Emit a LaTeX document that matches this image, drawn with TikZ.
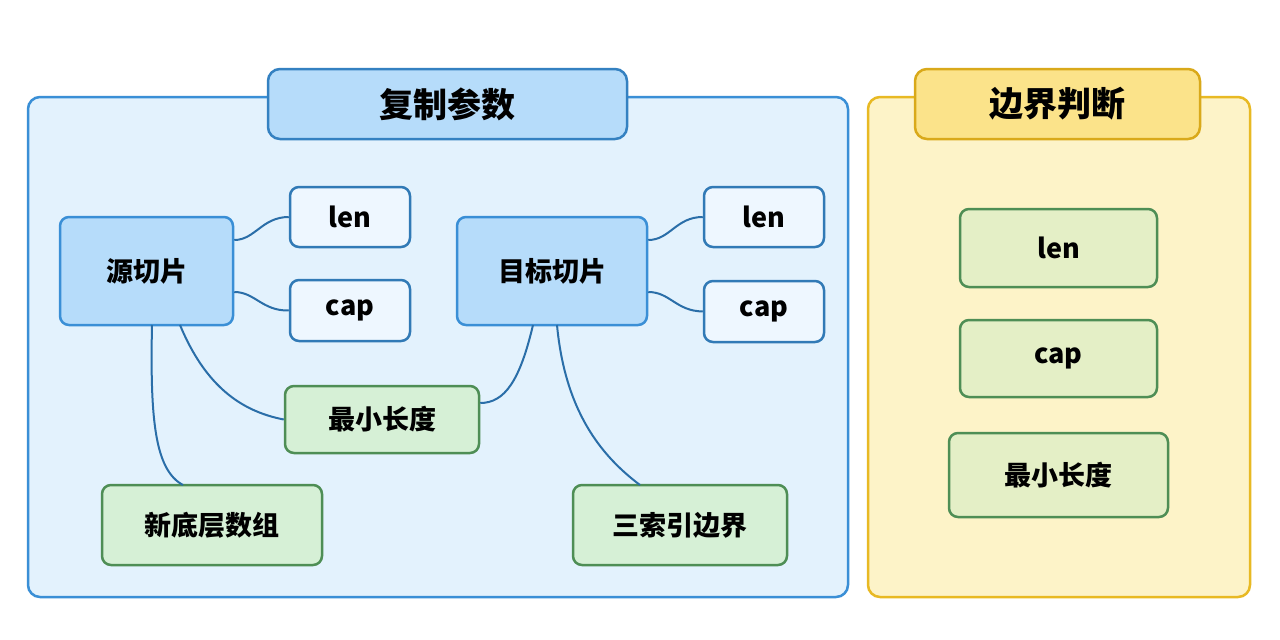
\documentclass[tikz,border=0pt]{standalone}
\usepackage{fontspec}
\setmainfont{Noto Sans CJK SC}
\definecolor{bluefill}{HTML}{B6DCFA}
\definecolor{blueline}{HTML}{3A8FD6}
\definecolor{smallfill}{HTML}{EEF7FF}
\definecolor{greenfill}{HTML}{D6F0D6}
\definecolor{greenline}{HTML}{4E8E55}
\definecolor{ygreenfill}{HTML}{E4EFC6}
\definecolor{linkc}{HTML}{2A6EA8}
\definecolor{panelblue}{HTML}{E3F2FD}
\definecolor{yfill}{HTML}{FDF3C8}
\definecolor{yline}{HTML}{E8B923}
\definecolor{ytfill}{HTML}{FBE38A}
\definecolor{ytline}{HTML}{D9A91A}
\begin{document}
\begin{tikzpicture}[x=1pt,y=-1pt,line width=2.5pt,
  panel/.style={draw, rounded corners=12pt},
  box/.style={draw, rounded corners=9pt, font=\fontsize{27}{31}\selectfont\bfseries},
  blue/.style={box, fill=bluefill, draw=blueline},
  small/.style={box, fill=smallfill, draw=blueline!85!black},
  green/.style={box, fill=greenfill, draw=greenline},
  ygreen/.style={box, fill=ygreenfill, draw=greenline},
  link/.style={draw=linkc, line width=2pt}]
\useasboundingbox (0,0) rectangle (1280,640);
\fill[white] (0,0) rectangle (1280,640);
% panels
\path[panel, fill=panelblue, draw=blueline] (28,97) rectangle (848,597);
\node[panel, fill=bluefill, draw=blueline!90!black, minimum width=359pt, minimum height=70pt, font=\fontsize{34}{40}\selectfont\bfseries] (t1) at (447.5,104) {复制参数};
\path[panel, fill=yfill, draw=yline] (868,97) rectangle (1250,597);
\node[panel, fill=ytfill, draw=ytline, minimum width=285pt, minimum height=70pt, font=\fontsize{34}{40}\selectfont\bfseries] (t2) at (1057.5,104) {边界判断};
% nodes
\node[blue, minimum width=173pt, minimum height=108pt] (src) at (146.5,271) {源切片};
\node[small, minimum width=120pt, minimum height=60pt] (len1) at (350,217) {len};
\node[small, minimum width=120pt, minimum height=61pt] (cap1) at (350,310.5) {cap};
\node[blue, minimum width=190pt, minimum height=108pt] (dst) at (552,271) {目标切片};
\node[small, minimum width=120pt, minimum height=60pt] (len2) at (764,217) {len};
\node[small, minimum width=120pt, minimum height=61pt] (cap2) at (764,311.5) {cap};
\node[green, minimum width=194pt, minimum height=67pt] (min) at (382,419.5) {最小长度};
\node[green, minimum width=220pt, minimum height=80pt] (arr) at (212,525) {新底层数组};
\node[green, minimum width=214pt, minimum height=80pt] (tri) at (680,525) {三索引边界};
\node[ygreen, minimum width=197pt, minimum height=78pt] (rlen) at (1058.5,248) {len};
\node[ygreen, minimum width=197pt, minimum height=77pt] (rcap) at (1058.5,358.5) {cap};
\node[ygreen, minimum width=219pt, minimum height=84pt] (rmin) at (1058.5,475) {最小长度};
% links
\draw[link] (src.east|-0,240) .. controls (255,240) and (262,217) .. (len1.west);
\draw[link] (src.east|-0,292) .. controls (255,292) and (262,311) .. (cap1.west);
\draw[link] (180,325) .. controls (205,385) and (240,411) .. (min.west);
\draw[link] (152,325) .. controls (150,420) and (155,470) .. (183,485);
\draw[link] (533,325) .. controls (520,380) and (505,403) .. (min.east|-0,403);
\draw[link] (557,325) .. controls (565,410) and (600,455) .. (640,485);
\draw[link] (dst.east|-0,240) .. controls (670,240) and (676,217) .. (len2.west);
\draw[link] (dst.east|-0,292) .. controls (670,292) and (676,311) .. (cap2.west);
\end{tikzpicture}
\end{document}
